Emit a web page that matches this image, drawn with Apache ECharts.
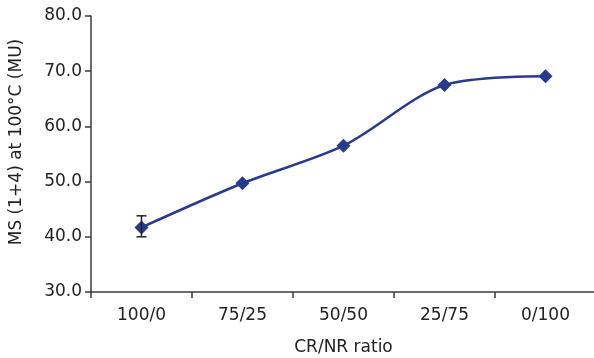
<!DOCTYPE html>
<html>
<head>
<meta charset="utf-8">
<script src="https://cdn.jsdelivr.net/npm/echarts@6/dist/echarts.min.js"></script>
<style>
  html, body { margin: 0; padding: 0; background: #fff; }
  #chart { width: 594px; height: 358px; }
</style>
</head>
<body>
<div id="chart"></div>
<script>
// CR/NR ratios
var categories = ['100/0', '75/25', '50/50', '25/75', '0/100'];
// Mooney viscosity values
var msValues = [41.7, 49.7, 56.5, 67.5, 69.1];
// error bars (only first point shows visible bars)
var errLow = [40.0, 49.7, 56.5, 67.5, 69.1];
var errHigh = [43.8, 49.7, 56.5, 67.5, 69.1];

var lineColor = '#283a8e';
var axisColor = '#3a3a3a';
var fontName = 'DejaVu Sans';

var errData = [];
for (var i = 0; i < categories.length; i++) {
    errData.push([i, errLow[i], errHigh[i]]);
}

var option = {
    animation: false,
    grid: {
        left: 91,
        right: -2,
        top: 16,
        bottom: 66,
        containLabel: false,
        outerBoundsMode: 'none'
    },
    xAxis: {
        type: 'category',
        data: categories,
        boundaryGap: true,
        name: 'CR/NR ratio',
        nameLocation: 'middle',
        nameGap: 47,
        nameTextStyle: { color: '#222', fontSize: 17, fontFamily: fontName },
        axisLine: { lineStyle: { color: axisColor, width: 1.5 } },
        axisTick: { show: true, length: 6, lineStyle: { color: axisColor, width: 1.5 } },
        axisLabel: { color: '#222', fontSize: 17, fontFamily: fontName, margin: 15 }
    },
    yAxis: {
        type: 'value',
        min: 30,
        max: 80,
        interval: 10,
        name: 'MS (1+4) at 100°C (MU)',
        nameLocation: 'middle',
        nameGap: 66,
        nameRotate: 90,
        nameTextStyle: { color: '#222', fontSize: 17, fontFamily: fontName, padding: [0, 0, 0, 24] },
        axisLine: { show: true, lineStyle: { color: axisColor, width: 1.5 } },
        axisTick: { show: true, length: 6, lineStyle: { color: axisColor, width: 1.5 } },
        splitLine: { show: false },
        axisLabel: {
            color: '#222', fontSize: 17, fontFamily: fontName, margin: 9,
            formatter: function (v) { return v.toFixed(1); }
        }
    },
    series: [
        {
            type: 'line',
            data: msValues,
            smooth: 0.3,
            symbol: 'diamond',
            symbolSize: 14,
            lineStyle: { color: lineColor, width: 2.5 },
            itemStyle: { color: lineColor },
            z: 3
        },
        {
            type: 'custom',
            data: errData,
            z: 4,
            renderItem: function (params, api) {
                var x = api.value(0);
                var lo = api.coord([x, api.value(1)]);
                var hi = api.coord([x, api.value(2)]);
                if (Math.abs(lo[1] - hi[1]) < 1) return null;
                var w = 5;
                var st = { stroke: '#222', lineWidth: 1.5 };
                return {
                    type: 'group',
                    children: [
                        { type: 'line', shape: { x1: hi[0], y1: hi[1], x2: lo[0], y2: lo[1] }, style: st },
                        { type: 'line', shape: { x1: hi[0] - w, y1: hi[1], x2: hi[0] + w, y2: hi[1] }, style: st },
                        { type: 'line', shape: { x1: lo[0] - w, y1: lo[1], x2: lo[0] + w, y2: lo[1] }, style: st }
                    ]
                };
            }
        }
    ]
};

var myChart = echarts.init(document.getElementById('chart'));
myChart.setOption(option);
</script>
</body>
</html>
